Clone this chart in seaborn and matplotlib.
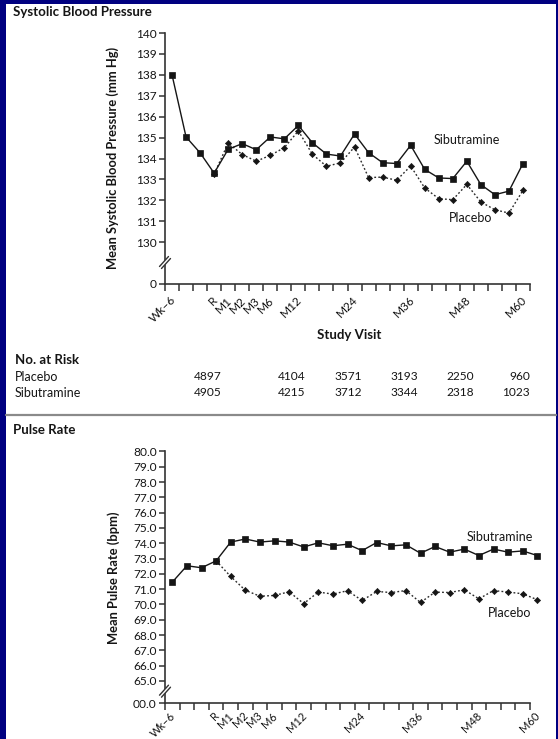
import numpy as np
import pandas as pd
import matplotlib
matplotlib.use("Agg")
import matplotlib.pyplot as plt
import matplotlib.transforms as mtransforms
from matplotlib.patches import Rectangle, Polygon
from matplotlib.lines import Line2D
import seaborn as sns

# ---------------- data ----------------
visits = ["Wk\u20136", "Wk\u20134", "Wk\u20132", "R", "M1", "M2", "M3", "M6", "M9", "M12",
          "M15", "M18", "M21", "M24", "M27", "M30", "M33", "M36", "M39",
          "M42", "M45", "M48", "M51", "M54", "M57", "M60"]
shown_labels = ["Wk\u20136", "R", "M1", "M2", "M3", "M6", "M12", "M24", "M36", "M48", "M60"]

# systolic blood pressure (mm Hg); placebo starts at randomization (R)
sbp_sibutramine = [138.0, 135.03, 134.27, 133.3, 134.44, 134.71, 134.42, 135.03, 134.94,
                   135.58, 134.75, 134.21, 134.12, 135.17, 134.28, 133.8, 133.76, 134.63,
                   133.48, 133.07, 133.04, 133.87, 132.75, 132.27, 132.44, 133.76]
sbp_placebo = [133.25, 134.74, 134.19, 133.87, 134.15, 134.52, 135.32, 134.2, 133.63,
               133.79, 134.55, 133.09, 133.11, 132.96, 133.64, 132.59, 132.08, 132.03,
               132.76, 131.92, 131.55, 131.39, 132.48]

# pulse rate (bpm)
pulse_sibutramine = [71.46, 72.53, 72.4, 72.85, 74.08, 74.28, 74.08, 74.16, 74.08, 73.76,
                     74.03, 73.84, 73.94, 73.52, 74.05, 73.83, 73.9, 73.35, 73.79, 73.42,
                     73.62, 73.2, 73.62, 73.42, 73.5, 73.2]
pulse_placebo = [72.85, 71.83, 70.93, 70.54, 70.59, 70.83, 70.06, 70.81, 70.68, 70.9,
                 70.26, 70.85, 70.78, 70.91, 70.13, 70.81, 70.78, 70.96, 70.37, 70.91,
                 70.81, 70.7, 70.31]

risk_visits = ["R", "M12", "M24", "M36", "M48", "M60"]
risk_placebo = [4897, 4104, 3571, 3193, 2250, 960]
risk_sibutramine = [4905, 4215, 3712, 3344, 2318, 1023]

sbp_ticks = [130, 131, 132, 133, 134, 135, 136, 137, 138, 139, 140]
pulse_ticks = [65, 66, 67, 68, 69, 70, 71, 72, 73, 74, 75, 76, 77, 78, 79, 80]

# ---------------- style ----------------
sns.set_theme(style="white")
plt.rcParams["font.family"] = ["Lato", "DejaVu Sans"]
INK = "#151515"
AXC = "#333333"

W, H = 558, 739
fig = plt.figure(figsize=(W / 100, H / 100), dpi=100)
fig.patch.set_facecolor("#000080")


def fx(x):
    return x / W


def fy(y):
    return 1 - y / H


# white page inside the navy frame
fig.add_artist(Rectangle((fx(6), 0), fx(W - 6 - 2), 1 - 4 / H, transform=fig.transFigure,
                         facecolor="white", edgecolor="none", zorder=-5))
# divider between the two panels
fig.add_artist(Line2D([fx(6), fx(W - 2)], [fy(415), fy(415)], transform=fig.transFigure,
                      color="#8a8a8a", lw=1.6, zorder=-4))

pos = {v: i for i, v in enumerate(visits)}
xi = np.arange(len(visits))
tick_text = [v if v in shown_labels else "" for v in visits]


def style_axes(ax, n_edges, yticks, ylabels, ylo, yhi, dx, pad, xfs):
    ax.set_facecolor("none")
    for s in ("top", "right"):
        ax.spines[s].set_visible(False)
    for s in ("left", "bottom"):
        ax.spines[s].set_color(AXC)
        ax.spines[s].set_linewidth(1.2)
    ax.set_xlim(-0.5, 25.5)
    ax.set_ylim(ylo, yhi)
    ax.spines["bottom"].set_bounds(-0.5, n_edges - 1.5)
    ax.set_xticks(np.arange(n_edges) - 0.5, minor=True)
    ax.set_xticks(xi)
    ax.set_xticklabels(tick_text, rotation=45, rotation_mode="anchor",
                       ha="right", va="top", fontsize=xfs, color=INK)
    ax.tick_params(axis="x", which="major", length=0, pad=pad)
    ax.tick_params(axis="x", which="minor", length=5, width=1.1, color=AXC,
                   direction="out", bottom=True)
    ax.set_yticks(yticks)
    ax.set_yticklabels(ylabels, fontsize=8.6, color=INK)
    ax.tick_params(axis="y", length=4, width=1.1, color=AXC, direction="out",
                   pad=2, left=True)
    ax.set_xlabel("")
    ax.set_ylabel("")
    shift = mtransforms.ScaledTranslation(dx / 100, 0, fig.dpi_scale_trans)
    for lab in ax.get_xticklabels():
        lab.set_transform(lab.get_transform() + shift)


def draw_break(xpx, ypx):
    a = [(xpx - 5.5, ypx + 4.5), (xpx + 3.5, ypx - 5.5)]
    b = [(xpx - 3.5, ypx + 6.5), (xpx + 5.5, ypx - 3.5)]
    gap = Polygon([(fx(a[0][0]), fy(a[0][1])), (fx(a[1][0]), fy(a[1][1])),
                   (fx(b[1][0]), fy(b[1][1])), (fx(b[0][0]), fy(b[0][1]))],
                  closed=True, transform=fig.transFigure, facecolor="white",
                  edgecolor="none", zorder=10)
    fig.add_artist(gap)
    for seg in (a, b):
        fig.add_artist(Line2D([fx(seg[0][0]), fx(seg[1][0])], [fy(seg[0][1]), fy(seg[1][1])],
                              transform=fig.transFigure, color=AXC, lw=1.0, zorder=11))


def draw_series(ax, sib, pla):
    sns.lineplot(x=xi, y=sib, ax=ax, color=INK, linewidth=1.0, marker="s",
                 markersize=4.4, markeredgecolor=INK, markeredgewidth=0.5,
                 legend=False, zorder=4)
    sns.lineplot(x=xi[pos["R"]:], y=pla, ax=ax, color="#2a2a2a", linewidth=1.0,
                 linestyle=(0, (1.3, 1.6)), marker="D", markersize=3.2,
                 markeredgecolor=INK, markerfacecolor=INK, markeredgewidth=0.4,
                 legend=False, zorder=3)


# ---------------- systolic blood pressure ----------------
ax1 = fig.add_axes([fx(165), fy(284), 365 / W, 251 / H])
draw_series(ax1, sbp_sibutramine, sbp_placebo)
style_axes(ax1, 27, [128] + sbp_ticks, ["0"] + [str(v) for v in sbp_ticks], 128, 140,
           dx=-2, pad=7.5, xfs=8.6)
ax1.text(18.6, 134.87, "Sibutramine", fontsize=9, color=INK, ha="left", va="center")
ax1.text(19.73, 131.14, "Placebo", fontsize=9, color=INK, ha="left", va="center")
draw_break(165, 262)

fig.text(fx(13), fy(12.5), "Systolic Blood Pressure", fontsize=9.5, fontweight="bold",
         color=INK, ha="left", va="center")
fig.text(fx(113), fy(158), "Mean Systolic Blood Pressure (mm Hg)", fontsize=9.3,
         fontweight="bold", color=INK, rotation=90, ha="center", va="center")
fig.text(fx(349), fy(335), "Study Visit", fontsize=9.5, fontweight="bold", color=INK,
         ha="center", va="center")

# numbers at risk
fig.text(fx(15), fy(360), "No. at Risk", fontsize=9.5, fontweight="bold", color=INK,
         ha="left", va="center")
fig.text(fx(15), fy(377), "Placebo", fontsize=9, color=INK, ha="left", va="center")
fig.text(fx(15), fy(393), "Sibutramine", fontsize=9, color=INK, ha="left", va="center")
risk_tr = mtransforms.blended_transform_factory(ax1.transData, fig.transFigure)
for v, p, s in zip(risk_visits, risk_placebo, risk_sibutramine):
    ax1.text(pos[v] + 0.5, fy(376.5), str(p), transform=risk_tr, fontsize=8.6, color=INK,
             ha="right", va="center", clip_on=False)
    ax1.text(pos[v] + 0.5, fy(393), str(s), transform=risk_tr, fontsize=8.6, color=INK,
             ha="right", va="center", clip_on=False)

# ---------------- pulse rate ----------------
ax2 = fig.add_axes([fx(165), fy(703.3), 379.6 / W, 251.8 / H])
draw_series(ax2, pulse_sibutramine, pulse_placebo)
style_axes(ax2, 26, [63.54] + pulse_ticks, ["00.0"] + [f"{v:.1f}" for v in pulse_ticks],
           63.54, 80, dx=-3, pad=5, xfs=8)
ax2.text(20.18, 74.43, "Sibutramine", fontsize=9, color=INK, ha="left", va="center")
ax2.text(21.64, 69.44, "Placebo", fontsize=9, color=INK, ha="left", va="center")
draw_break(165, 690.7)

fig.text(fx(13), fy(430), "Pulse Rate", fontsize=9.5, fontweight="bold", color=INK,
         ha="left", va="center")
fig.text(fx(114), fy(578), "Mean Pulse Rate (bpm)", fontsize=9.3, fontweight="bold",
         color=INK, rotation=90, ha="center", va="center")

fig.savefig("out.png", dpi=100, facecolor=fig.get_facecolor())
